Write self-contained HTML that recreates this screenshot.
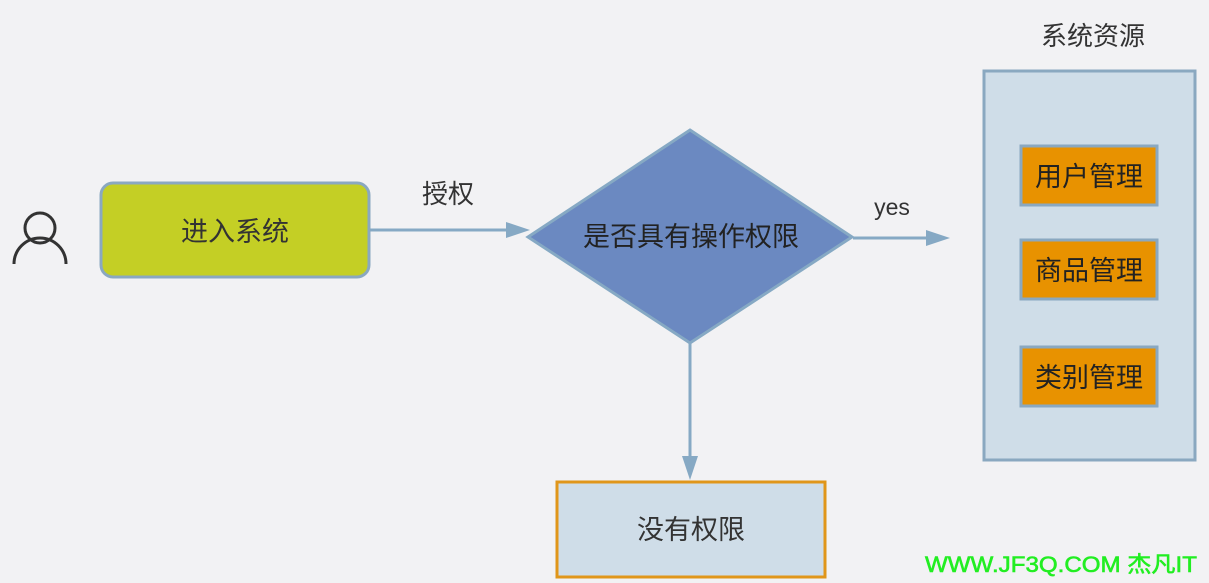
<!DOCTYPE html>
<html><head><meta charset="utf-8"><style>
html,body{margin:0;padding:0;background:#f2f2f4;}
svg{display:block;font-family:"Liberation Sans","Noto Sans CJK SC",sans-serif;}
</style></head><body>
<svg width="1209" height="583" viewBox="0 0 1209 583" xmlns="http://www.w3.org/2000/svg">
<rect width="1209" height="583" fill="#f2f2f4"/>
<circle cx="40" cy="228" r="15" fill="none" stroke="#333" stroke-width="3"/>
<path d="M14,264 A26,26 0 0 1 66,264" fill="none" stroke="#333" stroke-width="3"/>
<rect x="101" y="183" width="268" height="94" rx="12" fill="#c4cf25" stroke="#8aa8c0" stroke-width="3"/>
<text x="235" y="241" font-size="27" text-anchor="middle" fill="#333">进入系统</text>
<line x1="370" y1="230" x2="510" y2="230" stroke="#86a9c4" stroke-width="3"/>
<path d="M506,222 L530,230 L506,238 Z" fill="#86a9c4"/>
<text x="448" y="203" font-size="26" text-anchor="middle" fill="#333">授权</text>
<polygon points="690,130 852,237 690,343 528,237" fill="#6b89c1" stroke="#86a9c4" stroke-width="3"/>
<text x="691" y="246" font-size="27" text-anchor="middle" fill="#222">是否具有操作权限</text>
<line x1="853" y1="238" x2="930" y2="238" stroke="#86a9c4" stroke-width="3"/>
<path d="M926,230 L950,238 L926,246 Z" fill="#86a9c4"/>
<text x="892" y="215" font-size="23" text-anchor="middle" fill="#333">yes</text>
<line x1="690" y1="343" x2="690" y2="460" stroke="#86a9c4" stroke-width="3"/>
<path d="M682,456 L690,480 L698,456 Z" fill="#86a9c4"/>
<rect x="557" y="482" width="268" height="95" fill="#cfdde8" stroke="#e0961a" stroke-width="3"/>
<text x="691" y="539" font-size="27" text-anchor="middle" fill="#333">没有权限</text>
<text x="1093" y="45" font-size="26" text-anchor="middle" fill="#333">系统资源</text>
<rect x="984" y="71" width="211" height="389" fill="#cfdde8" stroke="#8aa8c0" stroke-width="3"/>
<g font-size="27" text-anchor="middle" fill="#222">
<rect x="1021" y="146" width="136" height="59" fill="#e89200" stroke="#8aa8c0" stroke-width="3"/>
<text x="1089" y="186">用户管理</text>
<rect x="1021" y="240" width="136" height="59" fill="#e89200" stroke="#8aa8c0" stroke-width="3"/>
<text x="1089" y="280">商品管理</text>
<rect x="1021" y="347" width="136" height="59" fill="#e89200" stroke="#8aa8c0" stroke-width="3"/>
<text x="1089" y="387">类别管理</text>
</g>
<text x="925" y="572" font-size="22" fill="#22ee22" stroke="#22ee22" stroke-width="0.6" textLength="272" lengthAdjust="spacingAndGlyphs">WWW.JF3Q.COM 杰凡IT</text>
</svg>
</body></html>
